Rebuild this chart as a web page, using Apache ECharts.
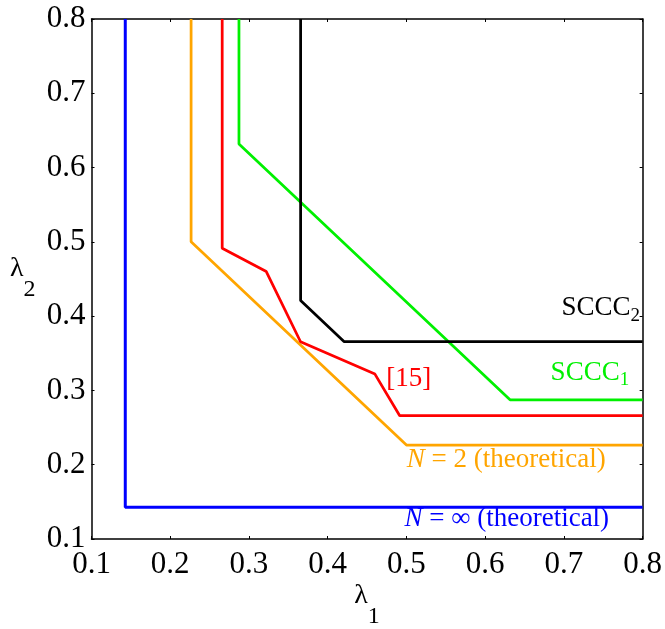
<!DOCTYPE html>
<html>
<head>
<meta charset="utf-8">
<script src="https://cdn.jsdelivr.net/npm/echarts@6/dist/echarts.min.js"></script>
<style>
html,body{margin:0;padding:0;background:#fff;}
#chart{width:665px;height:629px;}
</style>
</head>
<body>
<div id="chart"></div>
<script>
// ---- data ----
const axisMin = 0.1, axisMax = 0.8, axisStep = 0.1;
const tickLabels = ['0.1','0.2','0.3','0.4','0.5','0.6','0.7','0.8'];

const blueX   = [0.1429, 0.1429, 0.8];
const blueY   = [0.8, 0.1429, 0.1429];
const orangeX = [0.2265, 0.2265, 0.5, 0.8];
const orangeY = [0.8, 0.5, 0.2265, 0.2265];
const redX    = [0.266, 0.266, 0.322, 0.3655, 0.46, 0.4915, 0.8];
const redY    = [0.8, 0.4915, 0.46, 0.3655, 0.322, 0.266, 0.266];
const greenX  = [0.2873, 0.2873, 0.6316, 0.8];
const greenY  = [0.8, 0.6316, 0.2873, 0.2873];
const blackX  = [0.3656, 0.3656, 0.421, 0.8];
const blackY  = [0.8, 0.421, 0.3656, 0.3656];

const seriesNames = ['N = ∞ (theoretical)', 'N = 2 (theoretical)', '[15]', 'SCCC1', 'SCCC2'];

// ---- styles ----
const FONT = 'Liberation Serif';
const C = {blue:'#0000ff', orange:'#ffa500', red:'#ff0000', green:'#00f000', black:'#000000'};

function pairs(xs, ys){ return xs.map((x,i)=>[x, ys[i]]); }

const chart = echarts.init(document.getElementById('chart'), null, {renderer:'canvas'});

function lineSeries(name, xs, ys, color, w){
  return {
    name, type:'line', data: pairs(xs, ys), showSymbol:false, symbol:'none',
    lineStyle:{color, width:w}, itemStyle:{color}, animation:false, z: 3,
    clip: true
  };
}

const axisCommon = {
  type:'value', min:axisMin, max:axisMax, interval:axisStep,
  splitLine:{show:false},
  axisLine:{show:true, onZero:false, lineStyle:{color:'#000', width:1.5}},
  axisTick:{show:true, inside:true, length:3, lineStyle:{color:'#000', width:1}}
};

function fmt(v){ return tickLabels[Math.round((v - axisMin)/axisStep)] || v.toFixed(1); }

chart.setOption({
  animation:false,
  backgroundColor:'#fff',
  textStyle:{fontFamily:FONT},
  grid:{left:91.5, right:21.5, top:19, bottom:90, containLabel:false},
  xAxis:[
    Object.assign({}, axisCommon, {position:'bottom',
      axisLabel:{show:true, margin:10, fontSize:31, fontFamily:FONT, fontWeight:'normal', color:'#000', formatter:fmt}}),
    Object.assign({}, axisCommon, {position:'top', axisLabel:{show:false}})
  ],
  yAxis:[
    Object.assign({}, axisCommon, {position:'left',
      axisLabel:{show:true, margin:6, fontSize:31, fontFamily:FONT, fontWeight:'normal', color:'#000', formatter:fmt}}),
    Object.assign({}, axisCommon, {position:'right', axisLabel:{show:false}})
  ],
  series:[
    lineSeries(seriesNames[0], blueX, blueY, C.blue, 3),
    lineSeries(seriesNames[1], orangeX, orangeY, C.orange, 2.75),
    lineSeries(seriesNames[2], redX, redY, C.red, 2.75),
    lineSeries(seriesNames[3], greenX, greenY, C.green, 2.75),
    lineSeries(seriesNames[4], blackX, blackY, C.black, 2.75)
  ]
});

// ---- text annotations with subscripts / italics ----
const ctx = document.createElement('canvas').getContext('2d');
function measure(t, size, italic){
  ctx.font = (italic ? 'italic ' : '') + size + 'px "' + FONT + '"';
  return ctx.measureText(t).width;
}
const MID = 0.3375; // em-middle above baseline

function richText(segs, px, baseline, align, color){
  const widths = segs.map(s => measure(s.t, s.size, s.italic));
  const total = widths.reduce((a,b)=>a+b, 0);
  let x = align === 'right' ? px - total : (align === 'center' ? px - total/2 : px);
  const els = [];
  segs.forEach((s,i) => {
    els.push({
      type:'text', x: x, y: baseline + (s.dy||0) - MID*s.size, silent:true, z:10,
      style:{text:s.t, fill:color, fontSize:s.size, fontFamily:FONT,
             fontStyle: s.italic ? 'italic' : 'normal', align:'left', verticalAlign:'middle'}
    });
    x += widths[i];
  });
  return els;
}

const ANN = 27, SUB = 19, SUBDY = 5;
const annotations = [
  {segs:[{t:'SCCC',size:ANN},{t:'2',size:SUB,dy:SUBDY}], at:[0.7968,0.3988], align:'right', color:C.black},
  {segs:[{t:'SCCC',size:ANN},{t:'1',size:SUB,dy:SUBDY}], at:[0.7829,0.3117], align:'right', color:C.green},
  {segs:[{t:'[15]',size:ANN}], at:[0.4743,0.3029], align:'left', color:C.red},
  {segs:[{t:'N',size:ANN,italic:true},{t:' = 2 (theoretical)',size:ANN}], at:[0.5005,0.1942], align:'left', color:C.orange},
  {segs:[{t:'N',size:ANN,italic:true},{t:' = ∞ (theoretical)',size:ANN}], at:[0.4975,0.1144], align:'left', color:C.blue}
];

let graphics = [];
annotations.forEach(a => {
  const p = chart.convertToPixel({gridIndex:0}, a.at);
  graphics = graphics.concat(richText(a.segs, p[0], p[1], a.align, a.color));
});

// axis names λ1 and λ2
const pMidBottom = chart.convertToPixel({gridIndex:0}, [(axisMin+axisMax)/2, axisMin]);
const pLeftMid = chart.convertToPixel({gridIndex:0}, [axisMin, (axisMin+axisMax)/2]);
graphics = graphics.concat(richText([{t:'λ',size:28},{t:'1',size:24,dy:20}], pMidBottom[0], pMidBottom[1]+66, 'center', '#000'));
graphics = graphics.concat(richText([{t:'λ',size:28},{t:'2',size:24,dy:20}], pLeftMid[0]-81.5, pLeftMid[1]-1, 'left', '#000'));

chart.setOption({graphic: graphics});
</script>
</body>
</html>
